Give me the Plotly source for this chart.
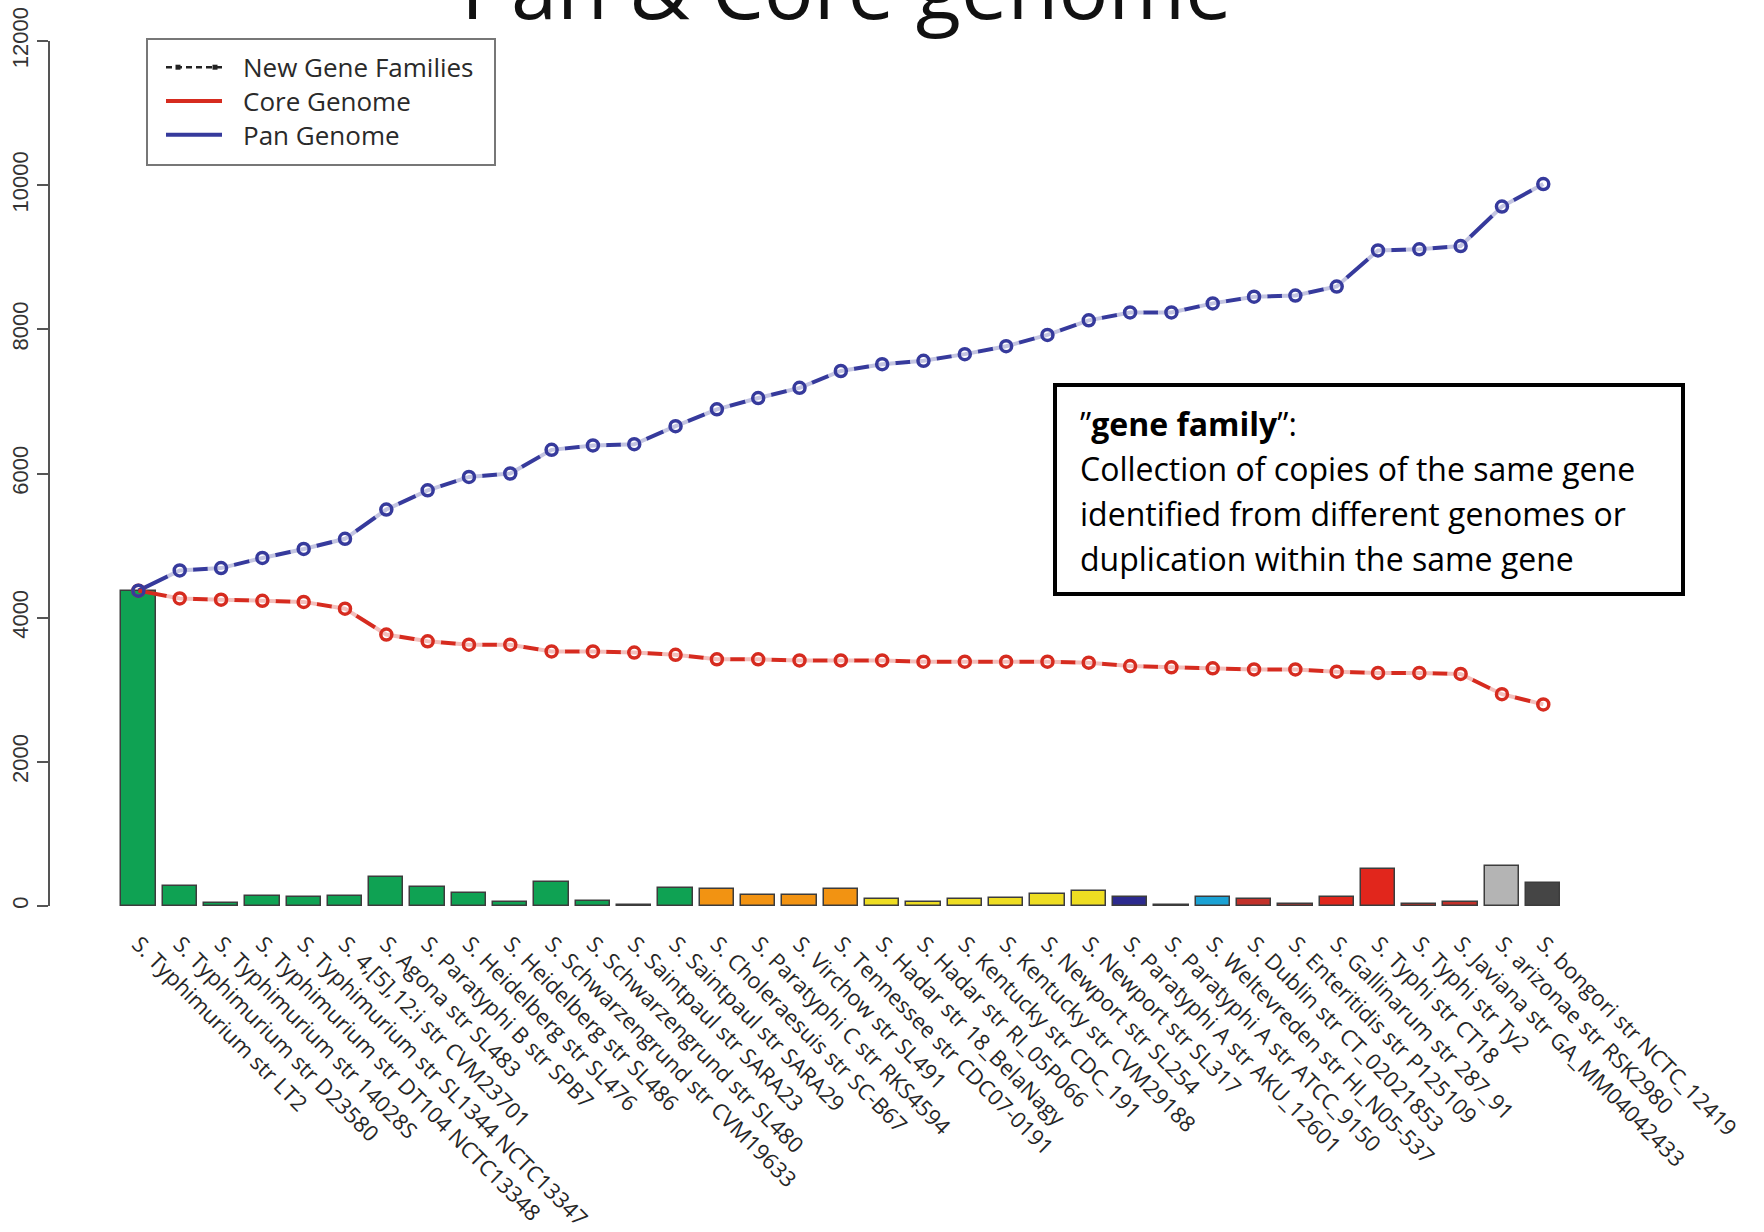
import plotly.graph_objects as go

# ---- data -------------------------------------------------------------
strains = [
    "S. Typhimurium str LT2",
    "S. Typhimurium str D23580",
    "S. Typhimurium str 14028S",
    "S. Typhimurium str DT104 NCTC13348",
    "S. Typhimurium str SL1344 NCTC13347",
    "S. 4,[5],12:i str CVM23701",
    "S. Agona str SL483",
    "S. Paratyphi B str SPB7",
    "S. Heidelberg str SL476",
    "S. Heidelberg str SL486",
    "S. Schwarzengrund str CVM19633",
    "S. Schwarzengrund str SL480",
    "S. Saintpaul str SARA23",
    "S. Saintpaul str SARA29",
    "S. Choleraesuis str SC-B67",
    "S. Paratyphi C str RKS4594",
    "S. Virchow str SL491",
    "S. Tennessee str CDC07-0191",
    "S. Hadar str 18_BelaNagy",
    "S. Hadar str RI_05P066",
    "S. Kentucky str CDC_191",
    "S. Kentucky str CVM29188",
    "S. Newport str SL254",
    "S. Newport str SL317",
    "S. Paratyphi A str AKU_12601",
    "S. Paratyphi A str ATCC_9150",
    "S. Weltevreden str HI_N05-537",
    "S. Dublin str CT_02021853",
    "S. Enteritidis str P125109",
    "S. Gallinarum str 287_91",
    "S. Typhi str CT18",
    "S. Typhi str Ty2",
    "S. Javiana str GA_MM04042433",
    "S. arizonae str RSK2980",
    "S. bongori str NCTC_12419",
]

new_gene_families = [4375, 281, 35, 140, 125, 140, 400, 270, 187, 50,
                     328, 65, 20, 250, 236, 157, 150, 234, 100, 50,
                     100, 110, 160, 203, 120, 12, 126, 100, 30, 130,
                     510, 30, 50, 555, 313]

core_genome = [4375, 4266, 4250, 4234, 4219, 4125, 3766, 3672, 3625, 3625,
               3531, 3531, 3516, 3484, 3422, 3422, 3406, 3406, 3406, 3390,
               3390, 3390, 3390, 3375, 3328, 3312, 3297, 3281, 3281, 3250,
               3234, 3234, 3219, 2938, 2797]

pan_genome = [4375, 4656, 4688, 4828, 4953, 5094, 5500, 5766, 5953, 6000,
              6328, 6390, 6406, 6656, 6890, 7047, 7188, 7422, 7516, 7563,
              7656, 7766, 7922, 8125, 8234, 8234, 8360, 8453, 8469, 8594,
              9094, 9110, 9156, 9703, 10016]

y_ticks = [0, 2000, 4000, 6000, 8000, 10000, 12000]

legend_labels = ["New Gene Families", "Core Genome", "Pan Genome"]

# ---- styling ----------------------------------------------------------
GREEN, ORANGE, YELLOW = "#0FA253", "#F29312", "#EEDD22"
NAVY, CYAN, DKRED, RED = "#2C2A8E", "#1BA2D4", "#C2312A", "#E1261C"
bar_colors = ([GREEN] * 14 + [ORANGE] * 4 + [YELLOW] * 6 + [NAVY] * 2 +
              [CYAN] + [DKRED] * 2 + [RED] * 3 + [DKRED] + ["#B4B4B4", "#454545"])

PAN_COLOR = "#363A9C"
CORE_COLOR = "#D62B1F"

W, H = 1764, 1232
L, R, T, B = 50, 1600, 41, 906          # plot area in page pixels
X0_PX, DX_PX = 138.4, 41.32             # first category centre, category pitch
x_min = 1 - (X0_PX - L) / DX_PX
x_max = x_min + (R - L) / DX_PX


def px(xp):
    return (xp - L) / (R - L)


def py(yp):
    return (B - yp) / (B - T)


xs = list(range(1, len(strains) + 1))
mask_sizes = [0] + [27] * (len(xs) - 1)

fig = go.Figure()

fig.add_trace(go.Bar(
    x=xs, y=new_gene_families, width=0.83,
    marker=dict(color=bar_colors, line=dict(color="#3C3C3C", width=1.5)),
    showlegend=False, hoverinfo="skip",
))

# connecting lines (solid); the gaps next to each point come from white discs
fig.add_trace(go.Scatter(x=xs, y=pan_genome, mode="lines", showlegend=False,
                         line=dict(color=PAN_COLOR, width=4)))
fig.add_trace(go.Scatter(x=xs, y=core_genome, mode="lines", showlegend=False,
                         line=dict(color=CORE_COLOR, width=4)))
for series in (pan_genome, core_genome):
    fig.add_trace(go.Scatter(x=xs, y=series, mode="markers", showlegend=False,
                             marker=dict(color="white", size=mask_sizes, line=dict(width=0)),
                             hoverinfo="skip"))
for series, col in ((core_genome, CORE_COLOR), (pan_genome, PAN_COLOR)):
    fig.add_trace(go.Scatter(x=xs, y=series, mode="markers", showlegend=False,
                             marker=dict(symbol="circle-open", color=col, size=11,
                                         line=dict(width=3.5, color=col))))

fig.update_layout(
    width=W, height=H,
    margin=dict(l=L, r=W - R, t=T, b=H - B, pad=0),
    paper_bgcolor="white", plot_bgcolor="white",
    font=dict(family="Open Sans", color="#1a1a1a"),
    bargap=0,
    showlegend=False,
    xaxis=dict(
        range=[x_min, x_max], tickmode="array", tickvals=xs, ticktext=strains,
        tickangle=45, showline=False, showgrid=False, zeroline=False,
        ticks="", ticklabelstandoff=20, automargin=False,
        tickfont=dict(family="Open Sans", size=22, color="#262626"),
    ),
    yaxis=dict(
        range=[0, 12000], tickmode="array", tickvals=y_ticks,
        ticktext=[str(v) for v in y_ticks], tickangle=-90,
        showline=True, linecolor="#555555", linewidth=2,
        ticks="outside", ticklen=11, tickwidth=2, tickcolor="#555555",
        showgrid=False, zeroline=False, automargin=False,
        tickfont=dict(family="Liberation Sans", size=22, color="#333333"),
    ),
)

# ---- legend box -------------------------------------------------------
LEG_FONT = 26
row_gap = 1.3 * LEG_FONT
row_y = [101 - row_gap, 101, 101 + row_gap]
fig.add_shape(type="rect", xref="paper", yref="paper",
              x0=px(147), x1=px(495), y0=py(165), y1=py(39),
              line=dict(color="#777777", width=2), fillcolor="white", layer="above")
sym_x0, sym_x1 = 166, 222
# New Gene Families: dashed black line with small square markers
fig.add_shape(type="line", xref="paper", yref="paper",
              x0=px(sym_x0), x1=px(sym_x1), y0=py(row_y[0]), y1=py(row_y[0]),
              line=dict(color="#222222", width=2.5, dash="6px,4px"), layer="above")
for sx in (178, 215):
    fig.add_shape(type="rect", xref="paper", yref="paper",
                  x0=px(sx - 2.5), x1=px(sx + 2.5), y0=py(row_y[0] + 2.5), y1=py(row_y[0] - 2.5),
                  line=dict(width=0), fillcolor="#222222", layer="above")
for yy, col in ((row_y[1], CORE_COLOR), (row_y[2], PAN_COLOR)):
    fig.add_shape(type="line", xref="paper", yref="paper",
                  x0=px(sym_x0), x1=px(sym_x1), y0=py(yy), y1=py(yy),
                  line=dict(color=col, width=4), layer="above")
fig.add_annotation(text="<br>".join(legend_labels), xref="paper", yref="paper",
                   x=px(241), y=py(101), xanchor="left", yanchor="middle",
                   showarrow=False, align="left",
                   font=dict(family="Open Sans", size=LEG_FONT, color="#2a2a2a"))

# ---- title, partly running off the top edge --------------------------
fig.add_annotation(text="Pan & Core genome", xref="paper", yref="paper",
                   x=px(846), y=py(45), xanchor="center", yanchor="bottom",
                   showarrow=False, font=dict(family="Open Sans", size=83, color="#111111"))

# ---- definition box ---------------------------------------------------
fig.add_shape(type="rect", xref="paper", yref="paper",
              x0=px(1055), x1=px(1683), y0=py(594), y1=py(385),
              line=dict(color="black", width=4), fillcolor="white", layer="above")
box_lines = ["”<b>gene family</b>”:",
             "Collection of copies of the same gene",
             "identified from different genomes or",
             "duplication within the same gene"]
for i, line in enumerate(box_lines):
    fig.add_annotation(text=line, xref="paper", yref="paper",
                       x=px(1078), y=py(423 + 45 * i), xanchor="left", yanchor="middle",
                       showarrow=False, align="left",
                       font=dict(family="Open Sans", size=32, color="black"))

fig.write_html("out.html")
